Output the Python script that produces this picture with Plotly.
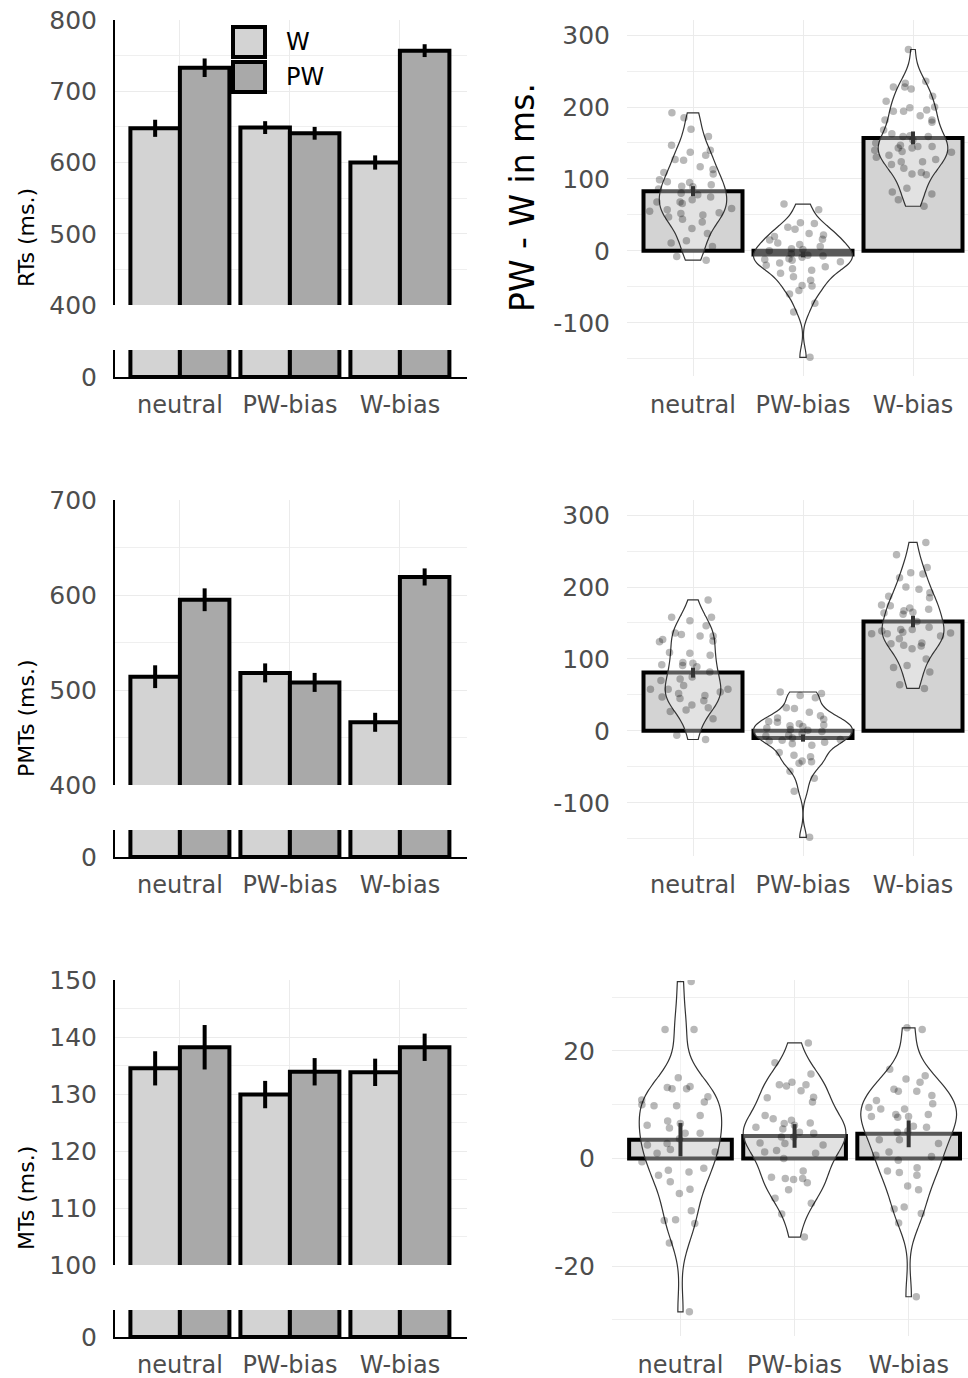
import numpy as np
import plotly.graph_objects as go

# ---------------- data ----------------
categories = ["neutral", "PW-bias", "W-bias"]
groups = ["W", "PW"]

rt_w = [648, 649, 600]
rt_w_se = [12, 9, 10]
rt_pw = [733, 641, 757]
rt_pw_se = [13, 9, 9]

pmt_w = [514, 518, 466]
pmt_w_se = [12, 10, 10]
pmt_pw = [595, 508, 619]
pmt_pw_se = [12, 10, 9]

mt_w = [134.5, 129.9, 133.8]
mt_w_se = [3.0, 2.4, 2.4]
mt_pw = [138.2, 133.9, 138.2]
mt_pw_se = [3.9, 2.4, 2.4]

rt_diff_mean = [83, -5, 157]
rt_diff_se = [7, 4, 9]
pmt_diff_mean = [81, -10, 152]
pmt_diff_se = [7, 5, 8]
mt_diff_mean = [3.5, 4.2, 4.6]
mt_diff_se = [3.1, 2.2, 2.5]

rt_diff_neutral = [192, 185, 169, 159, 147, 140, 137, 133, 127, 126, 117, 113, 109, 107, 99, 96, 95, 92, 90, 89,
                   86, 80, 78, 75, 71, 68, 68, 66, 59, 57, 55, 53, 52, 50, 47, 44, 40, 31, 24, 14, 11, 6, -8, -13]
rt_diff_pwbias = [65, 57, 39, 38, 33, 30, 24, 22, 20, 16, 15, 11, 9, 6, 3, 2, 0, -4, -6, -7, -9, -11, -12, -13,
                  -15, -17, -20, -22, -25, -27, -31, -36, -41, -48, -49, -55, -60, -73, -85, -148]
rt_diff_wbias = [280, 236, 233, 228, 228, 225, 215, 208, 200, 199, 196, 194, 194, 188, 182, 182, 179, 168, 163,
                 160, 159, 159, 154, 150, 147, 145, 145, 143, 143, 140, 138, 137, 133, 130, 127, 124, 124, 120,
                 115, 109, 107, 106, 87, 82, 79, 71, 62]

pmt_diff_neutral = [182, 158, 158, 153, 146, 136, 134, 132, 132, 127, 125, 124, 109, 108, 105, 95, 94, 92, 91, 89,
                    82, 75, 72, 70, 63, 58, 58, 58, 54, 52, 49, 47, 45, 42, 36, 32, 29, 27, 17, -6, -12]
pmt_diff_pwbias = [54, 52, 49, 46, 32, 31, 26, 21, 18, 16, 13, 12, 10, 8, 7, 6, 4, 2, 1, -1, -4, -6, -7, -10, -12,
                   -13, -14, -16, -18, -20, -30, -34, -36, -42, -43, -45, -56, -66, -84, -148]
pmt_diff_wbias = [262, 245, 227, 218, 220, 213, 200, 197, 192, 187, 185, 175, 174, 171, 169, 167, 165, 164, 162,
                  152, 144, 141, 141, 139, 137, 136, 135, 135, 132, 128, 122, 121, 119, 118, 114, 100, 91, 88, 82,
                  64, 59]

mt_diff_neutral = [32.9, 24, 24, 15, 13, 13, 13.4, 13.2, 10.9, 10, 11.5, 10.5, 9.8, 9.8, 8, 7, 6.5, 6.2, 5.7, 4.7,
                   4.7, 3.7, 2.8, 2.5, 1.7, 1.2, 1, -0.6, -1.8, -2.2, -2.5, -3.1, -4.3, -5.7, -6.5, -9.7, -11.4,
                   -11.5, -12.1, -15.7, -28.5]
mt_diff_pwbias = [21.5, 17.8, 15.7, 14.2, 13.7, 13.5, 13.7, 12.6, 11.4, 11.3, 10.5, 8, 7.4, 7.1, 6.6, 6.5, 6.2,
                  5.8, 5.5, 4.9, 4.7, 4, 4, 2.9, 2.8, 2.5, 1.5, 1.2, 1, 0, -2.3, -3.7, -3.9, -3.5, -3.7, -4.5,
                  -5.8, -7.4, -8.3, -10.3, -14.6]
mt_diff_wbias = [24.3, 24, 16.6, 15.4, 14.8, 14.2, 12.9, 12.5, 12.5, 11.7, 10.8, 10.2, 9.5, 9.2, 9.2, 8.2, 8.2,
                 7.8, 7.8, 7.7, 6, 5.8, 5.1, 4.9, 3.5, 3.5, 2.8, 1.2, 0.6, 0.4, -0.3, -1.7, -2.3, -2.6, -3.1,
                 -5.1, -5.8, -9, -9.4, -10.2, -12, -25.7]

left_titles = ["RTs (ms.)", "PMTs (ms.)", "MTs (ms.)"]
right_title = "PW - W in ms."

# ---------------- styling / layout helpers ----------------
W, H = 968, 1378
FONT = "DejaVu Sans"
TICK_COLOR = "#4d4d4d"
GRID = "#ebebeb"
MINOR = "#efefef"
C_W = "#d3d3d3"
C_PW = "#a9a9a9"


def dx(a, b):
    return [a / W, min(b / W, 1.0)]


def dy(top, bottom):
    return [1 - bottom / H, 1 - top / H]


def nrd0(v):
    v = np.asarray(v, dtype=float)
    sd = v.std(ddof=1)
    q75, q25 = np.percentile(v, [75, 25])
    lo = min(sd, (q75 - q25) / 1.34)
    return 0.9 * lo * len(v) ** (-0.2)


def labels(vals):
    return [str(v) for v in vals]


left_rows = [
    dict(w=rt_w, wse=rt_w_se, pw=rt_pw, pwse=rt_pw_se, rng=[400, 800], major=[400, 500, 600, 700, 800],
         minor=[450, 550, 650, 750]),
    dict(w=pmt_w, wse=pmt_w_se, pw=pmt_pw, pwse=pmt_pw_se, rng=[400, 700], major=[400, 500, 600, 700],
         minor=[450, 550, 650]),
    dict(w=mt_w, wse=mt_w_se, pw=mt_pw, pwse=mt_pw_se, rng=[100, 150], major=[100, 110, 120, 130, 140, 150],
         minor=[105, 115, 125, 135, 145]),
]
right_rows = [
    dict(mean=rt_diff_mean, se=rt_diff_se, pts=[rt_diff_neutral, rt_diff_pwbias, rt_diff_wbias],
         rng=[-174, 321], major=[-100, 0, 100, 200, 300], minor=[-150, -50, 50, 150, 250], xl=627,
         xr=[-0.6, 2.5]),
    dict(mean=pmt_diff_mean, se=pmt_diff_se, pts=[pmt_diff_neutral, pmt_diff_pwbias, pmt_diff_wbias],
         rng=[-174, 321], major=[-100, 0, 100, 200, 300], minor=[-150, -50, 50, 150, 250], xl=627,
         xr=[-0.6, 2.5]),
    dict(mean=mt_diff_mean, se=mt_diff_se, pts=[mt_diff_neutral, mt_diff_pwbias, mt_diff_wbias],
         rng=[-33, 33.2], major=[-20, 0, 20], minor=[-30, -10, 10, 30], xl=612, xr=[-0.6, 2.52]),
]

fig = go.Figure()
layout = dict(
    width=W, height=H, autosize=False,
    margin=dict(l=0, r=0, t=0, b=0, pad=0),
    paper_bgcolor="white", plot_bgcolor="white",
    font=dict(family=FONT, size=24, color=TICK_COLOR),
    barmode="group", bargap=0.1, bargroupgap=0,
    violinmode="overlay", violingap=0.1, violingroupgap=0,
    showlegend=False,
)
annotations = []
shapes = []

tickfont = dict(family=FONT, size=25, color=TICK_COLOR)
catfont = dict(family=FONT, size=24, color=TICK_COLOR)


def nm(prefix, i):
    return prefix if i == 1 else f"{prefix}{i}"


ax = 0
for r in range(3):
    off = 480 * r
    L = left_rows[r]
    R = right_rows[r]
    ax += 1
    xu = yu = ax
    ax += 1
    xs = ys = ax
    ax += 1
    xr_ = yr_ = ax

    # left upper axes
    layout[nm("xaxis", xu)] = dict(
        domain=dx(115, 467), anchor=nm("y", yu), type="category", categoryorder="array",
        categoryarray=categories, range=[-0.59, 2.61], showgrid=True, gridcolor=GRID, gridwidth=1.3,
        showticklabels=False, ticks="", zeroline=False, showline=False, automargin=False)
    layout[nm("yaxis", yu)] = dict(
        domain=dy(20 + off, 305 + off), anchor=nm("x", xu), range=L["rng"], tickvals=L["major"],
        ticktext=labels(L["major"]),
        showgrid=True, gridcolor=GRID, gridwidth=1.3, zeroline=False, showline=True, linecolor="black",
        linewidth=2, ticks="", tickfont=tickfont, ticklabelstandoff=11, automargin=False,
        minor=dict(tickvals=L["minor"], showgrid=True, gridcolor=MINOR, gridwidth=1))
    # left stub axes
    layout[nm("xaxis", xs)] = dict(
        domain=dx(115, 467), anchor=nm("y", ys), type="category", categoryorder="array",
        categoryarray=categories, range=[-0.59, 2.61], showgrid=False, ticks="", zeroline=False,
        showline=True, linecolor="black", linewidth=2, tickfont=catfont, ticklabelstandoff=5,
        automargin=False)
    layout[nm("yaxis", ys)] = dict(
        domain=dy(350 + off, 377 + off), anchor=nm("x", xs), range=[0, 40], tickvals=[0], ticktext=["0"],
        showgrid=False, zeroline=False, showline=True, linecolor="black", linewidth=2, ticks="",
        tickfont=tickfont, ticklabelstandoff=11, automargin=False)
    # right axes
    layout[nm("xaxis", xr_)] = dict(
        domain=dx(R["xl"], 968), anchor=nm("y", yr_), type="category", categoryorder="array",
        categoryarray=categories, range=R["xr"], showgrid=True, gridcolor=GRID, gridwidth=1.3,
        ticks="", zeroline=False, showline=False, tickfont=catfont, ticklabelstandoff=12, automargin=False)
    layout[nm("yaxis", yr_)] = dict(
        domain=dy(20 + off, 376 + off), anchor=nm("x", xr_), range=R["rng"], tickvals=R["major"],
        ticktext=labels(R["major"]),
        showgrid=True, gridcolor=GRID, gridwidth=1.3, zeroline=False, showline=False, ticks="",
        tickfont=tickfont, ticklabelstandoff=16, automargin=False,
        minor=dict(tickvals=R["minor"], showgrid=True, gridcolor=MINOR, gridwidth=1))

    # ---- left bars (upper with error bars, lower stub) ----
    for g, vals, se, col in [("W", L["w"], L["wse"], C_W), ("PW", L["pw"], L["pwse"], C_PW)]:
        fig.add_trace(go.Bar(
            x=categories, y=vals, name=g, offsetgroup=g, marker=dict(color=col, line=dict(color="black", width=4)),
            error_y=dict(type="data", array=se, color="black", thickness=4, width=0),
            xaxis=nm("x", xu), yaxis=nm("y", yu)))
        fig.add_trace(go.Bar(
            x=categories, y=vals, name=g, offsetgroup=g, marker=dict(color=col, line=dict(color="black", width=4)),
            xaxis=nm("x", xs), yaxis=nm("y", ys)))

    # ---- right: bars, violins with jittered points, error bars ----
    fig.add_trace(go.Bar(
        x=categories, y=R["mean"], marker=dict(color=C_W, line=dict(color="black", width=4)),
        xaxis=nm("x", xr_), yaxis=nm("y", yr_)))
    for cat, vals in zip(categories, R["pts"]):
        fig.add_trace(go.Violin(
            x=[cat] * len(vals), y=vals, points="all", jitter=0.9, pointpos=0, spanmode="hard",
            bandwidth=nrd0(vals), scalegroup=f"row{r}", scalemode="width",
            line=dict(color="#333333", width=1.2), fillcolor="rgba(255,255,255,0.35)",
            marker=dict(color="rgba(0,0,0,0.28)", size=7.5, line=dict(width=0)),
            box=dict(visible=False), meanline=dict(visible=False),
            xaxis=nm("x", xr_), yaxis=nm("y", yr_)))
    fig.add_trace(go.Scatter(
        x=categories, y=R["mean"], mode="markers", marker=dict(color="rgba(0,0,0,0)", size=2),
        error_y=dict(type="data", array=R["se"], color="#333333", thickness=4, width=0),
        xaxis=nm("x", xr_), yaxis=nm("y", yr_)))

    # left y title
    annotations.append(dict(
        text=left_titles[r], x=26 / W, y=1 - (238 + off) / H, xref="paper", yref="paper",
        xanchor="center", yanchor="middle", textangle=-90, showarrow=False,
        font=dict(family=FONT, size=22, color="black")))

# right title (top panel only)
annotations.append(dict(
    text=right_title, x=522 / W, y=1 - 198 / H, xref="paper", yref="paper", xanchor="center",
    yanchor="middle", textangle=-90, showarrow=False, font=dict(family=FONT, size=33, color="black")))

# legend (top-left panel)
for i, (g, col) in enumerate(zip(groups, [C_W, C_PW])):
    top = 27 + 35 * i
    shapes.append(dict(type="rect", xref="paper", yref="paper", x0=233 / W, x1=265 / W,
                       y0=1 - (top + 30) / H, y1=1 - top / H, fillcolor=col,
                       line=dict(color="black", width=4), layer="above"))
    annotations.append(dict(text=g, x=284 / W, y=1 - (top + 15) / H, xref="paper", yref="paper",
                            xanchor="left", yanchor="middle", showarrow=False,
                            font=dict(family=FONT, size=24, color="black")))

layout["annotations"] = annotations
layout["shapes"] = shapes
fig.update_layout(**layout)
fig.write_html("out.html", config={"displayModeBar": False},
               post_script="document.body.style.margin='0px';document.body.style.overflow='hidden';")
